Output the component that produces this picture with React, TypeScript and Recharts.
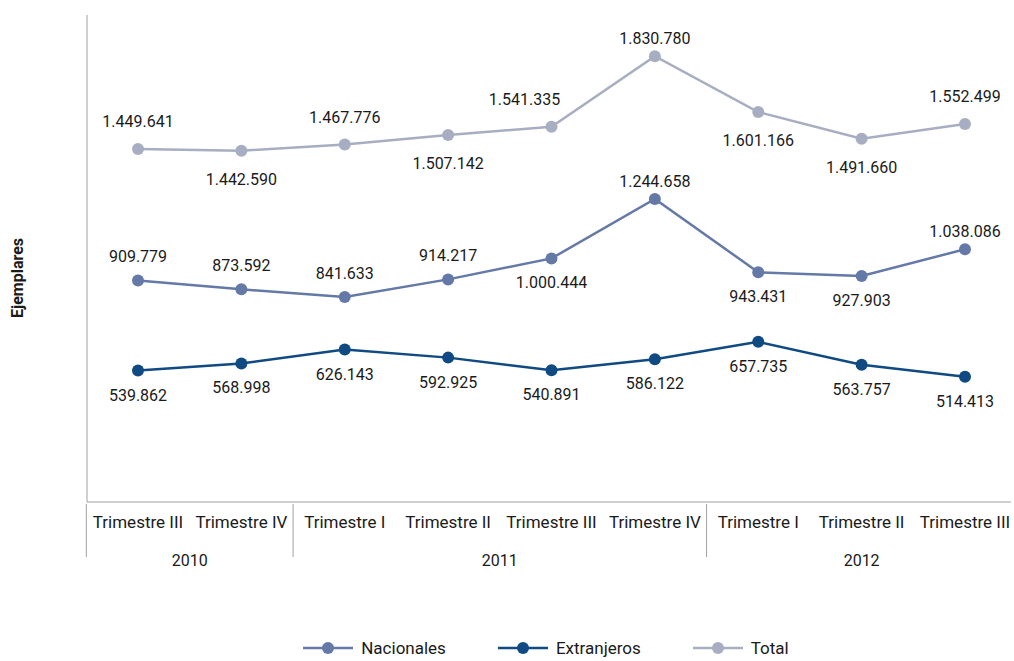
import React from 'react';
import { LineChart, Line, XAxis, YAxis, LabelList } from 'recharts';

const quarters = [
  'Trimestre III', 'Trimestre IV',
  'Trimestre I', 'Trimestre II', 'Trimestre III', 'Trimestre IV',
  'Trimestre I', 'Trimestre II', 'Trimestre III',
];
const years = ['2010', '2010', '2011', '2011', '2011', '2011', '2012', '2012', '2012'];

const nacionales = [909779, 873592, 841633, 914217, 1000444, 1244658, 943431, 927903, 1038086];
const extranjeros = [539862, 568998, 626143, 592925, 540891, 586122, 657735, 563757, 514413];
const total = [1449641, 1442590, 1467776, 1507142, 1541335, 1830780, 1601166, 1491660, 1552499];

// which side of the point each value label sits on
const nacionalesSide = ['top', 'top', 'top', 'top', 'bottom', 'topNear', 'bottom', 'bottom', 'topNear'];
const extranjerosSide = ['bottom', 'bottom', 'bottom', 'bottom', 'bottom', 'bottom', 'bottom', 'bottom', 'bottom'];
const totalSide = ['top', 'bottom', 'top', 'bottom', 'topLeft', 'topNear', 'bottom', 'bottom', 'top'];

const data = quarters.map((q, i) => ({
  quarter: q,
  year: years[i],
  nacionales: nacionales[i],
  extranjeros: extranjeros[i],
  total: total[i],
}));

const W = 1014;
const H = 630;
const M = { top: 15, right: 3, left: 27, bottom: 98 };
const Y_W = 60;
const PAD = { left: 51, right: 46 };
const STEP = (W - M.left - Y_W - M.right - PAD.left - PAD.right) / (quarters.length - 1);

const FONT = 'Roboto, sans-serif';
const TEXT = '#1a1a1a';
const AXIS = '#a0a0a0';

const C_NAC = '#6479a7';
const C_EXT = '#0f4a82';
const C_TOT = '#a8aec2';

const txt = { fontFamily: FONT, fontSize: 16, fill: TEXT };
const tickTxt = { ...txt, fontSize: 17 };

const fmt = (v: number) => String(v).replace(/\B(?=(\d{3})+(?!\d))/g, '.');

const makeLabel = (sides: string[], off: number) => (props: any) => {
  const { x, y, value, index } = props;
  const side = sides[index];
  let dy = -off + 6;
  if (side === 'bottom') dy = off + 6;
  if (side === 'topNear') dy = -18 + 6;
  const dx = side === 'topLeft' ? -27 : 0;
  return (
    <text x={Number(x) + dx} y={Number(y) + dy} textAnchor="middle" style={txt}>
      {fmt(Number(value))}
    </text>
  );
};

const QuarterTick = (props: any) => {
  const { x, y, payload } = props;
  const i = payload.index;
  const yr = years[i];
  const isFirst = i === 0 || years[i - 1] !== yr;
  let count = 0;
  if (isFirst) {
    while (years[i + count] === yr) count++;
  }
  return (
    <g>
      <text x={x} y={y + 24} textAnchor="middle" style={tickTxt}>
        {payload.value}
      </text>
      {isFirst && (
        <>
          <line x1={x - STEP / 2} x2={x - STEP / 2} y1={y} y2={y + 53} stroke={AXIS} strokeWidth={1} />
          <text x={x + ((count - 1) * STEP) / 2} y={y + 62} textAnchor="middle" style={txt}>
            {yr}
          </text>
        </>
      )}
    </g>
  );
};

const legendItems = [
  { name: 'Nacionales', color: C_NAC },
  { name: 'Extranjeros', color: C_EXT },
  { name: 'Total', color: C_TOT },
];

export default function App() {
  return (
    <div style={{ position: 'relative', width: W, height: 661, fontFamily: FONT }}>
      <style>{'body{margin:0;overflow:hidden}'}</style>
      <LineChart width={W} height={H} data={data} margin={M} style={{ fontFamily: FONT }}>
        <XAxis
          dataKey="quarter"
          padding={PAD}
          axisLine={{ stroke: AXIS, strokeWidth: 1 }}
          tickLine={false}
          tickSize={0}
          interval={0}
          tick={QuarterTick}
        />
        <YAxis
          domain={[0, 2000000]}
          width={Y_W}
          tick={false}
          tickLine={false}
          axisLine={{ stroke: AXIS, strokeWidth: 1 }}
        />
        <Line
          dataKey="nacionales"
          stroke={C_NAC}
          strokeWidth={2.5}
          dot={{ r: 6, fill: C_NAC, stroke: 'none' }}
          isAnimationActive={false}
        >
          <LabelList dataKey="nacionales" content={makeLabel(nacionalesSide, 24)} />
        </Line>
        <Line
          dataKey="extranjeros"
          stroke={C_EXT}
          strokeWidth={2.5}
          dot={{ r: 6, fill: C_EXT, stroke: 'none' }}
          isAnimationActive={false}
        >
          <LabelList dataKey="extranjeros" content={makeLabel(extranjerosSide, 24)} />
        </Line>
        <Line
          dataKey="total"
          stroke={C_TOT}
          strokeWidth={2.5}
          dot={{ r: 6, fill: C_TOT, stroke: 'none' }}
          isAnimationActive={false}
        >
          <LabelList dataKey="total" content={makeLabel(totalSide, 28)} />
        </Line>
      </LineChart>
      <svg width={40} height={120} style={{ position: 'absolute', left: 3, top: 218 }}>
        <text x={20} y={60} transform="rotate(-90 20 60)" textAnchor="middle" style={{ ...txt, fontWeight: 'bold' }}>
          Ejemplares
        </text>
      </svg>
      <div
        style={{
          position: 'absolute',
          top: 638,
          left: 0,
          width: W,
          paddingLeft: 78,
          boxSizing: 'border-box',
          display: 'flex',
          justifyContent: 'center',
          alignItems: 'center',
          fontSize: 17,
          color: TEXT,
        }}
      >
        {legendItems.map((it) => (
          <div key={it.name} style={{ display: 'flex', alignItems: 'center', margin: '0 26px' }}>
            <svg width={50} height={14} style={{ marginRight: 8 }}>
              <line x1={0} x2={50} y1={7} y2={7} stroke={it.color} strokeWidth={2.5} />
              <circle cx={25} cy={7} r={6} fill={it.color} />
            </svg>
            <span>{it.name}</span>
          </div>
        ))}
      </div>
    </div>
  );
}
